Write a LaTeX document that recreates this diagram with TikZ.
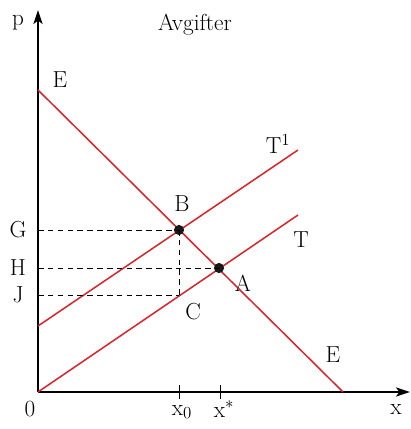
\documentclass[tikz,border=0pt]{standalone}
\usepackage{tikz}
\usetikzlibrary{arrows.meta, positioning}
\definecolor{curvered}{RGB}{213,40,48}

\begin{document}
\begin{tikzpicture}[x=0.025cm, y=0.025cm, font=\fontsize{16.5}{20}\selectfont,
    curve/.style={curvered, line width=1.1pt},
    guide/.style={black, line width=0.6pt, dash pattern=on 4pt off 3pt},
    dot/.style={circle, fill=black!90, inner sep=0pt, minimum size=7.2pt},
    tick/.style={black, line width=0.7pt}]
  \useasboundingbox (0,0) rectangle (411,429);
  % Axes
  \coordinate (O) at (38,37);
  \coordinate (xend) at (410,37);
  \coordinate (yend) at (38,419);
  \draw[line width=1pt, -{Stealth[length=10pt, width=6.5pt, inset=2.5pt]}] (O) -- (xend);
  \draw[line width=1pt, -{Stealth[length=10pt, width=6.5pt, inset=2.5pt]}] (O) -- (yend);
  \node (p) at (18,406) {p};
  \node (x) at (396,19) {x};
  \node (zero) at (30,20) {0};
  \node (title) at (195,404) {Avgifter};
  % Demand curve E and the two supply curves T, T1
  \coordinate (Etop) at (38,339);
  \coordinate (Ebot) at (343,37);
  \coordinate (Tend) at (298,214);
  \coordinate (Tone0) at (38,103);
  \coordinate (Tone1) at (298,279);
  \draw[curve] (Etop) -- (Ebot);
  \draw[curve] (O) -- (Tend);
  \draw[curve] (Tone0) -- (Tone1);
  \node (Elabtop) at (60,349) {E};
  \node (Elabbot) at (333,74) {E};
  \node (Tlab) at (301,189) {T};
  \node (Tonelab) at (278,285) {T$^{\mathrm{1}}$};
  % Points and their projections
  \node[dot] (B) at (179,199) {};
  \node[dot] (A) at (219,161) {};
  \coordinate (C) at (179,134);
  \node (Blab) at (182,225) {B};
  \node (Alab) at (243,146) {A};
  \node (Clab) at (193,117) {C};
  \coordinate (yG) at (38,199);
  \coordinate (yH) at (38,161);
  \coordinate (yJ) at (38,134);
  \draw[guide] (yG) -- (B.center);
  \draw[guide] (yH) -- (A.center);
  \draw[guide] (yJ) -- (C);
  \draw[guide] (B.center) -- (C);
  \node (G) at (18,199) {G};
  \node (H) at (18,161) {H};
  \node (J) at (18,134) {J};
  % Ticks on the x axis
  \coordinate (xa) at (179,37);
  \coordinate (xb) at (220,37);
  \draw[tick] ([yshift=5]xa) -- ([yshift=-5]xa);
  \draw[tick] ([yshift=5]xb) -- ([yshift=-5]xb);
  \node (xzero) at (182,17) {x$_{\mathrm{0}}$};
  \node (xstar) at (224,20) {x$^{*}$};
\end{tikzpicture}
\end{document}
